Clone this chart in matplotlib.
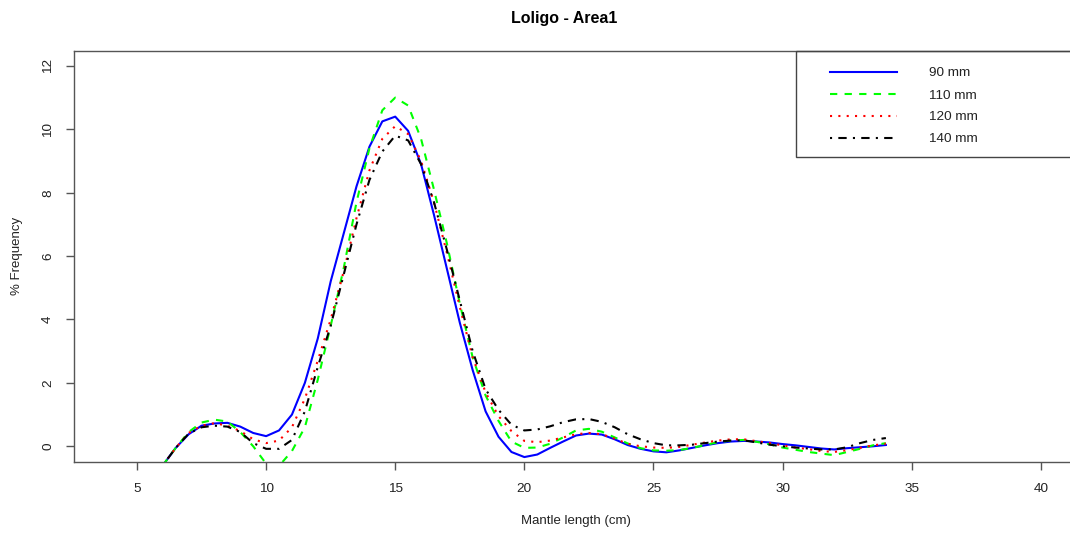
import matplotlib
matplotlib.use("Agg")
import matplotlib.pyplot as plt
from matplotlib.patches import Rectangle
from matplotlib.lines import Line2D
from matplotlib.transforms import Affine2D

plt.rcParams['font.family'] = ['Liberation Sans', 'DejaVu Sans']

# ---------------- data ----------------
length_cm = [6, 6.5, 7, 7.5, 8, 8.5, 9, 9.5, 10, 10.5, 11, 11.5, 12, 12.5, 13, 13.5,
             14, 14.5, 15, 15.5, 16, 16.5, 17, 17.5, 18, 18.5, 19, 19.5, 20, 20.5,
             21, 21.5, 22, 22.5, 23, 23.5, 24, 24.5, 25, 25.5, 26, 26.5, 27, 27.5,
             28, 28.5, 29, 29.5, 30, 30.5, 31, 31.5, 32, 32.5, 33, 33.5, 34]

freq_90 = [-0.60, -0.05, 0.38, 0.65, 0.72, 0.74, 0.62, 0.42, 0.32, 0.50, 1.00, 2.00,
           3.40, 5.20, 6.70, 8.20, 9.45, 10.25, 10.40, 9.95, 8.90, 7.30, 5.60, 3.90,
           2.40, 1.10, 0.30, -0.18, -0.34, -0.26, -0.05, 0.15, 0.34, 0.40, 0.37, 0.22,
           0.04, -0.08, -0.16, -0.19, -0.13, -0.05, 0.03, 0.10, 0.15, 0.17, 0.15, 0.12,
           0.07, 0.03, -0.02, -0.07, -0.10, -0.06, -0.03, 0.00, 0.04]

freq_110 = [-0.60, -0.05, 0.45, 0.75, 0.84, 0.78, 0.45, 0.00, -0.55, -0.62, -0.15, 0.60,
            2.10, 3.80, 5.60, 7.70, 9.40, 10.60, 11.00, 10.75, 9.70, 8.10, 6.40, 4.50,
            2.80, 1.60, 0.80, 0.15, -0.05, -0.04, 0.08, 0.28, 0.50, 0.55, 0.46, 0.28,
            0.09, -0.06, -0.13, -0.14, -0.12, -0.05, 0.04, 0.13, 0.18, 0.20, 0.14, 0.06,
            -0.04, -0.11, -0.18, -0.23, -0.28, -0.18, -0.08, 0.03, 0.10]

freq_120 = [-0.60, -0.05, 0.42, 0.65, 0.73, 0.65, 0.48, 0.22, 0.10, 0.18, 0.60, 1.50,
            2.70, 4.00, 5.50, 7.20, 8.70, 9.70, 10.10, 9.85, 9.00, 7.70, 6.10, 4.40,
            2.80, 1.70, 0.95, 0.48, 0.17, 0.13, 0.18, 0.28, 0.38, 0.42, 0.38, 0.24,
            0.08, 0.00, -0.04, -0.05, -0.02, 0.05, 0.12, 0.18, 0.22, 0.22, 0.16, 0.10,
            0.03, -0.04, -0.09, -0.15, -0.18, -0.12, -0.05, 0.03, 0.08]

freq_140 = [-0.60, -0.05, 0.40, 0.60, 0.65, 0.62, 0.45, 0.10, -0.08, -0.08, 0.20, 1.10,
            2.50, 3.80, 5.40, 7.00, 8.40, 9.30, 9.80, 9.65, 8.90, 7.70, 6.20, 4.60,
            3.00, 1.80, 1.15, 0.68, 0.50, 0.53, 0.63, 0.76, 0.85, 0.86, 0.77, 0.60,
            0.38, 0.22, 0.10, 0.03, 0.03, 0.05, 0.10, 0.15, 0.18, 0.19, 0.12, 0.05,
            0.00, -0.04, -0.07, -0.10, -0.10, -0.03, 0.10, 0.20, 0.26]

series_labels = ["90 mm", "110 mm", "120 mm", "140 mm"]
x_ticks = [5, 10, 15, 20, 25, 30, 35, 40]
y_ticks = [0, 2, 4, 6, 8, 10, 12]

# ---------------- styling ----------------
W, H = 1070, 536
fig = plt.figure(figsize=(W / 100, H / 100), dpi=100)
ax_left, ax_right, ax_top, ax_bottom = 74, 1078, 50.7, 461.5
ax = fig.add_axes([ax_left / W, 1 - ax_bottom / H,
                   (ax_right - ax_left) / W, (ax_bottom - ax_top) / H])

styles = [
    dict(color="#0000ff", linestyle="-"),
    dict(color="#00ff00", linestyle=(0, (3.5, 3.5))),
    dict(color="#ff0000", linestyle=(0, (1, 3))),
    dict(color="#000000", linestyle=(0, (1, 3, 4, 3))),
]
all_series = [freq_90, freq_110, freq_120, freq_140]
for ys, st in zip(all_series, styles):
    ax.plot(length_cm, ys, lw=1.5, **st)

ax.set_xlim(2.56, 41.44)
ax.set_ylim(-0.48, 12.48)
ax.set_xticks(x_ticks)
ax.set_yticks(y_ticks)
ax.set_xticklabels([str(t) for t in x_ticks], fontsize=9.7, color="#222222")
ax.set_yticklabels([str(t) for t in y_ticks], fontsize=9.7, color="#222222",
                   rotation=90, va="center")
ax.tick_params(axis="both", direction="out", length=5.8, width=1.0, color="#555555")
ax.tick_params(axis="x", pad=10)
ax.tick_params(axis="y", pad=8.5)
for s in ax.spines.values():
    s.set_color("#555555")
    s.set_linewidth(1.0)

fig.text(564 / W, 1 - 18 / H, "Loligo - Area1", ha="center", va="center",
         fontsize=11.5, fontweight="bold")
fig.text(576 / W, 1 - 521 / H, "Mantle length (cm)", ha="center", va="center",
         fontsize=9.5, color="#222222")
fig.text(17 / W, 1 - 256 / H, "% Frequency", ha="center", va="center",
         rotation=90, fontsize=9.5, color="#222222")

# legend (drawn in pixel coordinates, y downward)
tr = Affine2D().scale(1 / W, -1 / H).translate(0, 1) + fig.transFigure
fig.add_artist(Rectangle((796, 50.7), ax_right - 796, 156.7 - 50.7, transform=tr,
                         fill=False, edgecolor="#444444", lw=1.0))
rows = [71.5, 93.5, 115.5, 137.5]
for lab, st, yy in zip(series_labels, styles, rows):
    fig.add_artist(Line2D([830, 897], [yy, yy], transform=tr, lw=1.5, **st))
    fig.text(929 / W, 1 - (yy + 2) / H, lab, ha="left", va="center", fontsize=9.7,
             color="#222222")

fig.savefig("out.png", dpi=100)
